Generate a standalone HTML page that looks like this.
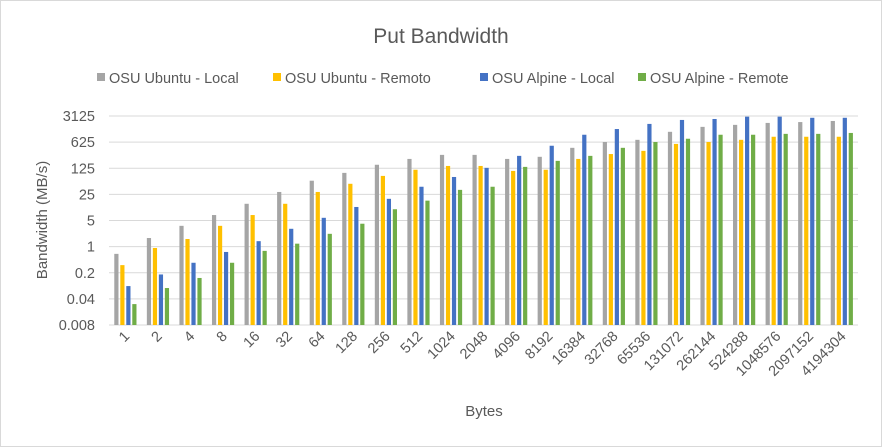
<!DOCTYPE html>
<html><head><meta charset="utf-8"><style>
body{margin:0;background:#fff}
svg{display:block;font-family:"Liberation Sans",sans-serif}
</style></head><body>
<svg width="882" height="447">
<rect x="0.5" y="0.5" width="881" height="446" fill="#fff" stroke="#d9d9d9"/>
<text x="441" y="43" text-anchor="middle" font-size="21" fill="#595959">Put Bandwidth</text>
<g id="legend"></g>
<g id="grid"></g>
<g id="yt"></g>
<g id="bars"></g>
<g id="xt"></g>
<text transform="translate(47,220) rotate(-90)" text-anchor="middle" font-size="15" fill="#595959">Bandwidth (MB/s)</text>
<text x="484" y="416" text-anchor="middle" font-size="15" fill="#595959">Bytes</text>
</svg>
<script>
const categories=["1","2","4","8","16","32","64","128","256","512","1024","2048","4096","8192","16384","32768","65536","131072","262144","524288","1048576","2097152","4194304"];
const ubuntuLocal=[0.64,1.7,3.6,7,14,29,58,94,155,222,285,285,222,253,440,630,720,1180,1600,1810,2040,2150,2300];
const ubuntuRemoto=[0.32,0.92,1.6,3.6,7,14,29,48,78,114,144,144,106,114,222,300,365,560,630,720,870,870,870];
const alpineLocal=[0.088,0.18,0.37,0.72,1.4,3,5.9,11.5,19,40,73,128,268,500,985,1400,1920,2450,2600,3000,3000,2800,2800];
const alpineRemote=[0.029,0.078,0.145,0.37,0.77,1.2,2.2,4.1,10,17,33,40,136,197,268,440,630,770,985,985,1040,1040,1100];
const seriesNames=["OSU Ubuntu - Local","OSU Ubuntu - Remoto","OSU Alpine - Local","OSU Alpine - Remote"];
const yTicks=[0.008,0.04,0.2,1,5,25,125,625,3125];
const yTickLabels=["0.008","0.04","0.2","1","5","25","125","625","3125"];
const colors=["#a5a5a5","#ffc000","#4472c4","#70ad47"];
const NS="http://www.w3.org/2000/svg";
const X0=109,X1=858,Y0=325,Y1=116;
const lmin=Math.log(0.008),lmax=Math.log(3125);
function yScale(v){return Y0-(Math.log(v)-lmin)/(lmax-lmin)*(Y0-Y1);}
const gw=(X1-X0)/categories.length;
function xCenter(i){return X0+gw*(i+0.5);}
function mk(t,a,p){const e=document.createElementNS(NS,t);for(const k in a)e.setAttribute(k,a[k]);p.appendChild(e);return e;}
const grid=document.getElementById('grid'),yt=document.getElementById('yt'),bars=document.getElementById('bars'),xt=document.getElementById('xt'),lg=document.getElementById('legend');
yTicks.forEach((t,i)=>{
  const y=yScale(t);
  const l=mk('line',{x1:X0,x2:X1,y1:y,y2:y,stroke:'#d9d9d9','stroke-width':1},grid);
  
  
  const tx=mk('text',{x:95,y:y+5,'text-anchor':'end','font-size':14.5,fill:'#595959'},yt);
  tx.textContent=yTickLabels[i];
  
  
});
const series=[ubuntuLocal,ubuntuRemoto,alpineLocal,alpineRemote];
categories.forEach((c,i)=>{
  const cx=xCenter(i);
  series.forEach((s,j)=>{
    const x=cx-11+j*6,y=yScale(s[i]);
    const r=mk('rect',{x:x,y:y,width:4.2,height:Y0-y,fill:colors[j]},bars);
    
    
  });
  const tx=mk('text',{x:cx+5,y:337,'text-anchor':'end','font-size':14.5,fill:'#595959',transform:'rotate(-45 '+(cx+5)+' 337)'},xt);
  tx.textContent=c;
  
  
});
const lx=[97,273,480,638];
seriesNames.forEach((n,j)=>{
  const r=mk('rect',{x:lx[j],y:73,width:8,height:8,fill:colors[j]},lg);
  
  
  const t=mk('text',{x:lx[j]+12,y:83,'font-size':14.5,fill:'#595959'},lg);
  t.textContent=n;
  
  
});
</script>
</body></html>
